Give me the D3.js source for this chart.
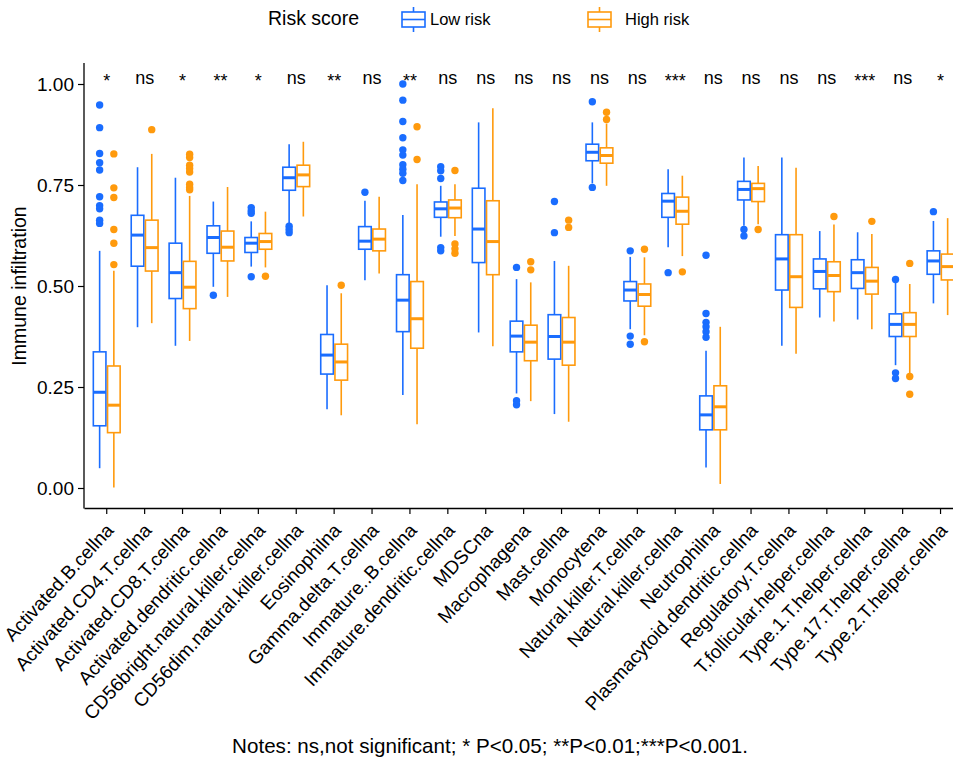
<!DOCTYPE html>
<html>
<head>
<meta charset="utf-8">
<script src="https://cdn.jsdelivr.net/npm/d3@7"></script>
<style>
  body { margin: 0; background: #fff; }
  text { font-family: "Liberation Sans", Arial, sans-serif; fill: #000; }
</style>
</head>
<body>
<div id="chart"></div>
<script>
const width = 953,
  height = 761;

// categories and significance marks
const categories = ['Activated.B.cellna', 'Activated.CD4.T.cellna', 'Activated.CD8.T.cellna',
  'Activated.dendritic.cellna', 'CD56bright.natural.killer.cellna', 'CD56dim.natural.killer.cellna',
  'Eosinophilna', 'Gamma.delta.T.cellna', 'Immature..B.cellna', 'Immature.dendritic.cellna',
  'MDSCna', 'Macrophagena', 'Mast.cellna', 'Monocytena', 'Natural.killer.T.cellna',
  'Natural.killer.cellna', 'Neutrophilna', 'Plasmacytoid.dendritic.cellna', 'Regulatory.T.cellna',
  'T.follicular.helper.cellna', 'Type.1.T.helper.cellna', 'Type.17.T.helper.cellna', 'Type.2.T.helper.cellna'];

const signif = ['*', 'ns', '*', '**', '*', 'ns', '**', 'ns', '**', 'ns', 'ns', 'ns', 'ns', 'ns',
  'ns', '***', 'ns', 'ns', 'ns', 'ns', '***', 'ns', '*'];

const groups = ['Low risk', 'High risk'];

// [whisker low, q1, median, q3, whisker high]
const lowStats = [
  [0.049, 0.154, 0.237, 0.337, 0.587],
  [0.398, 0.549, 0.626, 0.675, 0.794],
  [0.352, 0.469, 0.533, 0.606, 0.768],
  [0.498, 0.581, 0.620, 0.649, 0.709],
  [0.548, 0.583, 0.606, 0.620, 0.660],
  [0.653, 0.737, 0.768, 0.794, 0.851],
  [0.195, 0.282, 0.329, 0.380, 0.502],
  [0.514, 0.591, 0.611, 0.647, 0.711],
  [0.230, 0.387, 0.465, 0.528, 0.676],
  [0.622, 0.670, 0.691, 0.708, 0.748],
  [0.385, 0.558, 0.641, 0.742, 0.905],
  [0.234, 0.337, 0.376, 0.413, 0.517],
  [0.183, 0.319, 0.375, 0.429, 0.562],
  [0.754, 0.810, 0.831, 0.851, 0.905],
  [0.393, 0.463, 0.490, 0.511, 0.572],
  [0.596, 0.670, 0.710, 0.729, 0.789],
  [0.051, 0.144, 0.181, 0.228, 0.340],
  [0.649, 0.713, 0.739, 0.759, 0.818],
  [0.352, 0.490, 0.567, 0.627, 0.818],
  [0.422, 0.493, 0.536, 0.567, 0.636],
  [0.417, 0.494, 0.533, 0.565, 0.633],
  [0.304, 0.375, 0.405, 0.431, 0.508],
  [0.457, 0.529, 0.562, 0.587, 0.661]
];

const highStats = [
  [0.001, 0.137, 0.205, 0.302, 0.538],
  [0.408, 0.537, 0.595, 0.663, 0.827],
  [0.364, 0.444, 0.497, 0.561, 0.723],
  [0.473, 0.562, 0.596, 0.636, 0.745],
  [0.546, 0.591, 0.610, 0.630, 0.684],
  [0.672, 0.746, 0.775, 0.799, 0.857],
  [0.180, 0.267, 0.312, 0.356, 0.482],
  [0.531, 0.587, 0.616, 0.641, 0.721],
  [0.158, 0.346, 0.419, 0.511, 0.752],
  [0.624, 0.669, 0.693, 0.713, 0.752],
  [0.351, 0.528, 0.610, 0.711, 0.940],
  [0.215, 0.315, 0.361, 0.403, 0.509],
  [0.164, 0.304, 0.361, 0.422, 0.550],
  [0.748, 0.804, 0.823, 0.842, 0.902],
  [0.378, 0.450, 0.479, 0.505, 0.571],
  [0.574, 0.653, 0.685, 0.720, 0.773],
  [0.010, 0.144, 0.201, 0.253, 0.399],
  [0.653, 0.709, 0.741, 0.754, 0.797],
  [0.332, 0.447, 0.523, 0.627, 0.793],
  [0.412, 0.486, 0.526, 0.560, 0.652],
  [0.393, 0.480, 0.512, 0.546, 0.629],
  [0.280, 0.375, 0.405, 0.434, 0.505],
  [0.428, 0.515, 0.548, 0.579, 0.668]
];

const lowOutliers = [
  [0.948, 0.892, 0.828, 0.805, 0.787, 0.721, 0.699, 0.691, 0.663, 0.655],
  [],
  [],
  [0.477],
  [0.694, 0.686, 0.680, 0.523],
  [0.648, 0.640, 0.632],
  [],
  [0.732],
  [1.000, 0.960, 0.907, 0.867, 0.837, 0.824, 0.800, 0.789, 0.779, 0.761],
  [0.795, 0.785, 0.766, 0.595, 0.587],
  [],
  [0.546, 0.216, 0.206],
  [0.709, 0.632],
  [0.956, 0.744],
  [0.587, 0.376, 0.356],
  [0.533],
  [0.576, 0.432, 0.410, 0.399, 0.387, 0.373],
  [0.640, 0.624],
  [],
  [],
  [],
  [0.516, 0.285, 0.271],
  [0.684]
];

const highOutliers = [
  [0.827, 0.743, 0.719, 0.640, 0.606, 0.553],
  [0.887],
  [0.826, 0.818, 0.799, 0.791, 0.782, 0.752, 0.744, 0.738],
  [],
  [0.524],
  [],
  [0.502],
  [],
  [0.894, 0.813],
  [0.786, 0.604, 0.592, 0.581],
  [],
  [0.560, 0.540],
  [0.663, 0.645],
  [0.930, 0.912],
  [0.591, 0.362],
  [0.535],
  [],
  [0.640],
  [],
  [0.672],
  [0.660],
  [0.556, 0.276, 0.232],
  []
];

const yTicks = [0, 0.25, 0.5, 0.75, 1];

const colors = { 'Low risk': '#1a6dff', 'High risk': '#ff9a0d' };

const margin = { left: 84, top: 63, bottom: 508 };

const svg = d3.select('#chart').append('svg')
  .attr('width', width)
  .attr('height', height);

const x = d3.scaleBand()
  .domain(categories)
  .range([margin.left, margin.left + 37.9 * (categories.length + 0.2)])
  .paddingOuter(0.1)
  .paddingInner(0);

const y = d3.scaleLinear()
  .domain([0, 1])
  .range([488, 84]);

const sub = d3.scaleBand()
  .domain(groups)
  .range([-0.375, 0.375]);

const boxW = x.bandwidth() * 0.375;

// build per-box rows
let rows = [];
categories.forEach((c, i) => {
  rows.push({ cat: c, group: 'Low risk', s: lowStats[i], out: lowOutliers[i] });
  rows.push({ cat: c, group: 'High risk', s: highStats[i], out: highOutliers[i] });
});

function cx(d) {
  return x(d.cat) + x.bandwidth() / 2 + (sub(d.group) + sub.bandwidth() / 2) * x.bandwidth();
}

let boxes = svg.append('g')
  .selectAll('g')
  .data(rows)
  .enter().append('g')
  .style('stroke', d => colors[d.group])
  .style('fill', 'none');

// whiskers
boxes.append('line')
  .attr('x1', cx).attr('x2', cx)
  .attr('y1', d => y(d.s[3])).attr('y2', d => y(d.s[4]))
  .attr('stroke-width', 1.6);
boxes.append('line')
  .attr('x1', cx).attr('x2', cx)
  .attr('y1', d => y(d.s[0])).attr('y2', d => y(d.s[1]))
  .attr('stroke-width', 1.6);

boxes.append('rect')
  .attr('x', d => cx(d) - boxW / 2 + 0.8)
  .attr('width', boxW - 1.6)
  .attr('y', d => y(d.s[3]))
  .attr('height', d => y(d.s[1]) - y(d.s[3]))
  .style('fill', '#fff')
  .attr('stroke-width', 1.6);

boxes.append('line')
  .attr('x1', d => cx(d) - boxW / 2 + 0.8)
  .attr('x2', d => cx(d) + boxW / 2 - 0.8)
  .attr('y1', d => y(d.s[2])).attr('y2', d => y(d.s[2]))
  .attr('stroke-width', 3);

// outliers
boxes.selectAll('circle')
  .data(d => d.out.map(v => ({ v: v, d: d })))
  .enter().append('circle')
  .attr('cx', o => cx(o.d))
  .attr('cy', o => y(o.v))
  .attr('r', 3.7)
  .style('stroke', 'none')
  .style('fill', o => colors[o.d.group]);

// significance labels
svg.append('g')
  .selectAll('text')
  .data(categories)
  .enter().append('text')
  .attr('x', d => x(d) + x.bandwidth() / 2)
  .attr('y', (d, i) => signif[i] === 'ns' ? 84 : 87)
  .attr('text-anchor', 'middle')
  .style('font-size', '18px')
  .text((d, i) => signif[i]);

// y axis
let yAxis = svg.append('g')
  .attr('transform', 'translate(' + margin.left + ',0)')
  .call(d3.axisLeft(y).tickValues(yTicks).tickFormat(d3.format('.2f')).tickSize(6).tickPadding(4));
yAxis.select('.domain').remove();
yAxis.selectAll('line').attr('stroke', '#000').attr('stroke-width', 1.2);
yAxis.selectAll('text').style('font-size', '19px').attr('fill', '#000');

svg.append('line')
  .attr('x1', margin.left).attr('x2', margin.left)
  .attr('y1', margin.top).attr('y2', margin.bottom + 0.6)
  .attr('stroke', '#000').attr('stroke-width', 1.3);

// x axis
let xAxis = svg.append('g')
  .attr('transform', 'translate(0,' + margin.bottom + ')')
  .call(d3.axisBottom(x).tickSize(6).tickSizeOuter(0));
xAxis.select('.domain').attr('stroke', '#000').attr('stroke-width', 1.3);
xAxis.selectAll('line').attr('stroke', '#000').attr('stroke-width', 1.2);
xAxis.selectAll('text')
  .style('font-size', '19px')
  .attr('fill', '#000')
  .attr('text-anchor', 'end')
  .attr('dy', '0.71em')
  .attr('y', 0)
  .attr('transform', 'translate(-2,14) rotate(-47.5)');

// y title
svg.append('text')
  .attr('transform', 'translate(26,' + y(0.5) + ') rotate(-90)')
  .attr('text-anchor', 'middle')
  .style('font-size', '19.5px')
  .text('Immune infiltration');

// notes
svg.append('text')
  .attr('x', 490)
  .attr('y', 753)
  .attr('text-anchor', 'middle')
  .style('font-size', '20.6px')
  .text('Notes: ns,not significant; * P<0.05; **P<0.01;***P<0.001.');

// legend
let legend = svg.append('g');
legend.append('text')
  .attr('x', 268).attr('y', 25)
  .style('font-size', '19.5px')
  .text('Risk score');

const legendX = { 'Low risk': 402, 'High risk': 588 };
const legendTextX = { 'Low risk': 430, 'High risk': 625 };

let keys = legend.selectAll('g')
  .data(groups)
  .enter().append('g')
  .style('stroke', d => colors[d])
  .style('fill', 'none');

keys.append('line')
  .attr('x1', d => legendX[d] + 11.5).attr('x2', d => legendX[d] + 11.5)
  .attr('y1', 7).attr('y2', 32)
  .attr('stroke-width', 1.6);
keys.append('rect')
  .attr('x', d => legendX[d]).attr('y', 12)
  .attr('width', 23).attr('height', 15)
  .style('fill', '#fff')
  .attr('stroke-width', 1.6);
keys.append('line')
  .attr('x1', d => legendX[d]).attr('x2', d => legendX[d] + 23)
  .attr('y1', 19.5).attr('y2', 19.5)
  .attr('stroke-width', 1.6);

legend.selectAll('text.lab')
  .data(groups)
  .enter().append('text')
  .attr('class', 'lab')
  .attr('x', d => legendTextX[d]).attr('y', 25)
  .style('font-size', '16.5px')
  .text(d => d);
</script>
</body>
</html>
